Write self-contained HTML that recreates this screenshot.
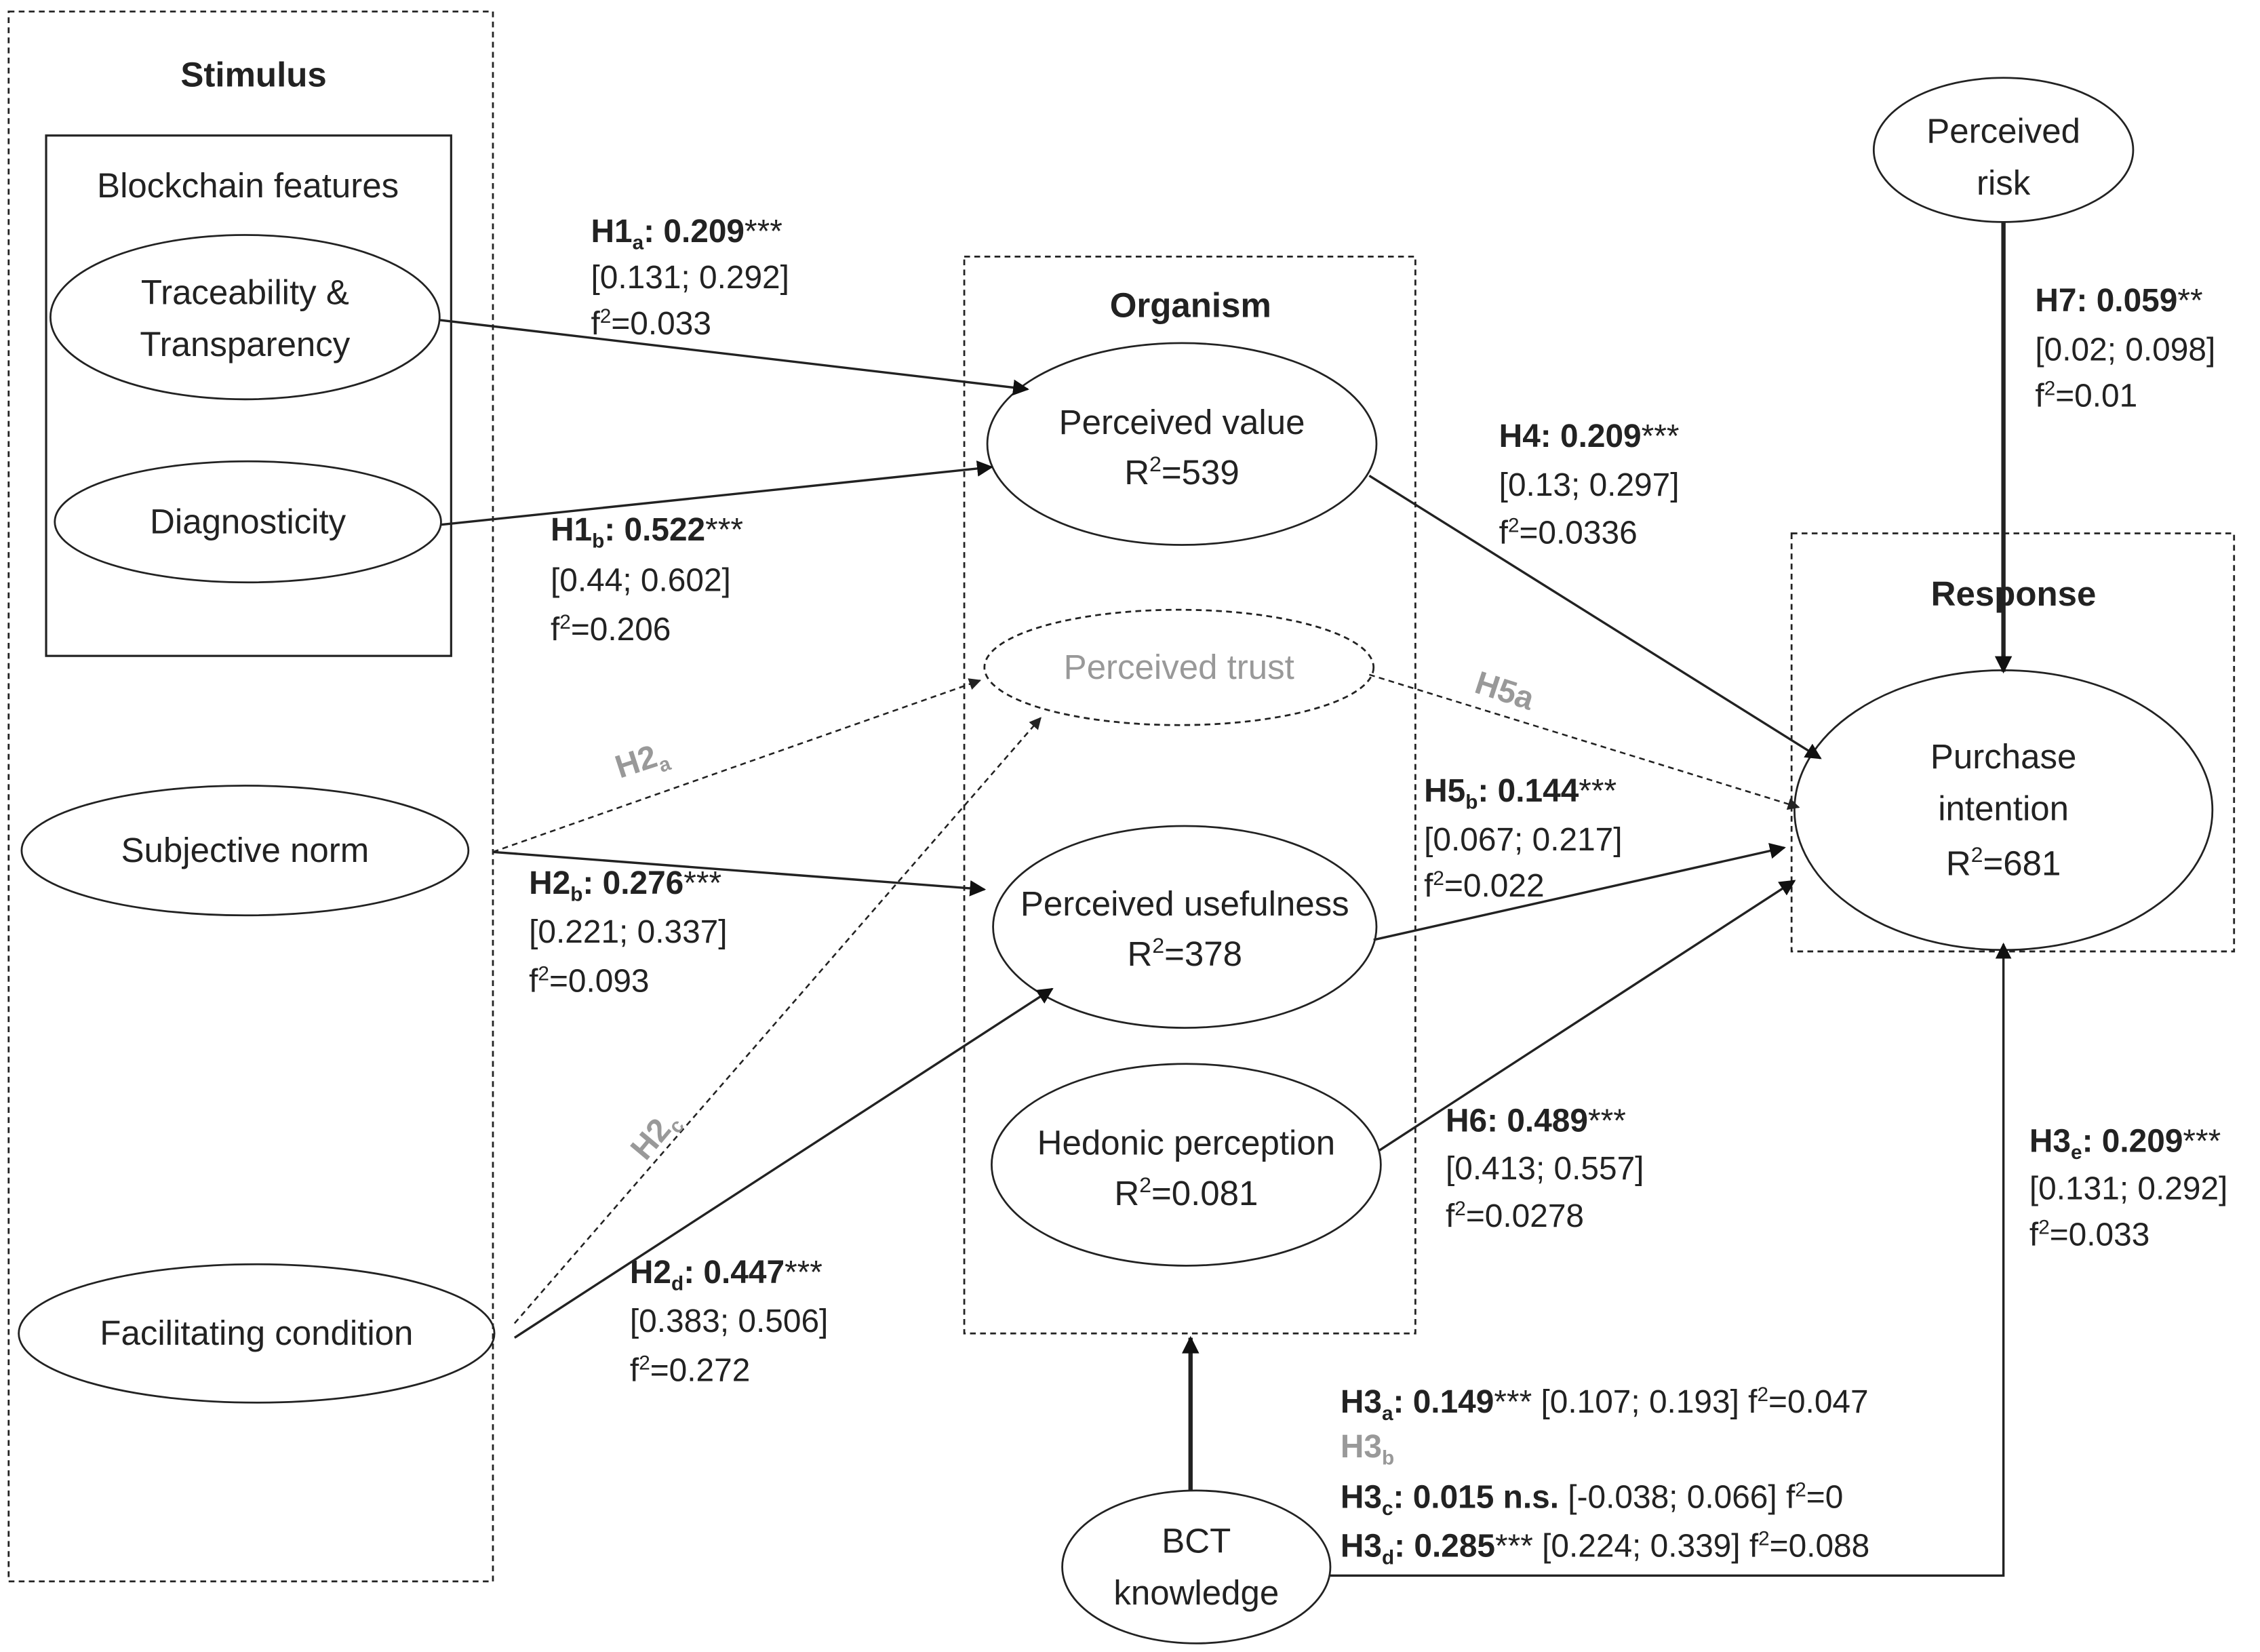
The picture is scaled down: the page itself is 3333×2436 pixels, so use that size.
<!DOCTYPE html>
<html><head><meta charset="utf-8"><style>
html,body{margin:0;padding:0;background:#fff}
svg{display:block}
text{font-family:"Liberation Sans",sans-serif;fill:#222}
.b{font-weight:bold}
.g{fill:#999}
</style></head><body>
<svg width="3333" height="2436" viewBox="0 0 1568 1146" preserveAspectRatio="none" xmlns="http://www.w3.org/2000/svg">
<defs>
<marker id="a" viewBox="0 0 10 10" refX="9" refY="5" markerWidth="7" markerHeight="7" orient="auto-start-reverse"><path d="M0,0L10,5L0,10z" fill="#111"/></marker>
<marker id="at" viewBox="0 0 10 10" refX="9" refY="5" markerWidth="13" markerHeight="12" markerUnits="userSpaceOnUse" orient="auto"><path d="M0,0L10,5L0,10z" fill="#111"/></marker>
<marker id="ag" viewBox="0 0 10 10" refX="9" refY="5" markerWidth="7" markerHeight="7" orient="auto"><path d="M0,0L10,5L0,10z" fill="#222"/></marker>
</defs>
<g fill="none" stroke="#222" stroke-width="1.3">
<rect x="6" y="8" width="336" height="1089" stroke-dasharray="4,3"/>
<rect x="32" y="94" width="281" height="361" stroke-width="1.5"/>
<rect x="669" y="178" width="313" height="747" stroke-dasharray="4,3"/>
<rect x="1243" y="370" width="307" height="290" stroke-dasharray="4,3"/>
<ellipse cx="170" cy="220" rx="135" ry="57"/>
<ellipse cx="172" cy="362" rx="134" ry="42"/>
<ellipse cx="170" cy="590" rx="155" ry="45"/>
<ellipse cx="178" cy="925" rx="165" ry="48"/>
<ellipse cx="820" cy="308" rx="135" ry="70"/>
<ellipse cx="818" cy="463" rx="135" ry="40" stroke-dasharray="4,3"/>
<ellipse cx="822" cy="643" rx="133" ry="70"/>
<ellipse cx="823" cy="808" rx="135" ry="70"/>
<ellipse cx="1390" cy="104" rx="90" ry="50"/>
<ellipse cx="1390" cy="562" rx="145" ry="97"/>
<ellipse cx="830" cy="1087" rx="93" ry="53"/>
<g stroke-width="1.6">
<line x1="305" y1="222" x2="713" y2="270" marker-end="url(#a)"/>
<line x1="306" y1="364" x2="688" y2="324" marker-end="url(#a)"/>
<line x1="342" y1="591" x2="683" y2="617" marker-end="url(#a)"/>
<line x1="357" y1="928" x2="730" y2="686" marker-end="url(#a)"/>
<line x1="950" y1="330" x2="1263" y2="526" marker-end="url(#a)"/>
<line x1="953" y1="652" x2="1238" y2="588" marker-end="url(#a)"/>
<line x1="957" y1="798" x2="1245" y2="611" marker-end="url(#a)"/>
<polyline points="923,1093 1390,1093 1390,655" marker-end="url(#a)"/>
</g>
<g stroke-width="1.2" stroke-dasharray="4,3">
<line x1="342" y1="591" x2="680" y2="472" marker-end="url(#ag)"/>
<line x1="357" y1="918" x2="722" y2="498" marker-end="url(#ag)"/>
<line x1="950" y1="468" x2="1248" y2="560" marker-end="url(#ag)"/>
</g>
<g stroke-width="3">
<line x1="1390" y1="154" x2="1390" y2="466" marker-end="url(#at)"/>
<line x1="826" y1="1034" x2="826" y2="928" marker-end="url(#at)"/>
</g>
</g>
<g font-size="24" text-anchor="middle">
<text x="176" y="60" class="b">Stimulus</text>
<text x="172" y="137">Blockchain features</text>
<text x="170" y="211">Traceability &amp;</text>
<text x="170" y="247">Transparency</text>
<text x="172" y="370">Diagnosticity</text>
<text x="170" y="598">Subjective norm</text>
<text x="178" y="933">Facilitating condition</text>
<text x="826" y="220" class="b">Organism</text>
<text x="820" y="301">Perceived value</text>
<text x="820" y="336">R<tspan font-size="15" dy="-9">2</tspan><tspan dy="9">=539</tspan></text>
<text x="818" y="471" class="g">Perceived trust</text>
<text x="822" y="635">Perceived usefulness</text>
<text x="822" y="670">R<tspan font-size="15" dy="-9">2</tspan><tspan dy="9">=378</tspan></text>
<text x="823" y="801">Hedonic perception</text>
<text x="823" y="836">R<tspan font-size="15" dy="-9">2</tspan><tspan dy="9">=0.081</tspan></text>
<text x="1390" y="99">Perceived</text>
<text x="1390" y="135">risk</text>
<text x="1397" y="420" class="b">Response</text>
<text x="1390" y="533">Purchase</text>
<text x="1390" y="569">intention</text>
<text x="1390" y="607">R<tspan font-size="15" dy="-9">2</tspan><tspan dy="9">=681</tspan></text>
<text x="830" y="1077">BCT</text>
<text x="830" y="1113">knowledge</text>
</g>
<g font-size="22.5">
<text x="410" y="168"><tspan class="b">H1</tspan><tspan font-size="14" dy="5" class="b">a</tspan><tspan dy="-5" class="b">: 0.209</tspan>***</text>
<text x="410" y="200">[0.131; 0.292]</text>
<text x="410" y="232">f<tspan font-size="14" dy="-8">2</tspan><tspan dy="8">=0.033</tspan></text>
<text x="382" y="375"><tspan class="b">H1</tspan><tspan font-size="14" dy="5" class="b">b</tspan><tspan dy="-5" class="b">: 0.522</tspan>***</text>
<text x="382" y="410">[0.44; 0.602]</text>
<text x="382" y="444">f<tspan font-size="14" dy="-8">2</tspan><tspan dy="8">=0.206</tspan></text>
<text x="430" y="540" class="g b" transform="rotate(-18 430 540)">H2<tspan font-size="14" dy="5">a</tspan></text>
<text x="367" y="620"><tspan class="b">H2</tspan><tspan font-size="14" dy="5" class="b">b</tspan><tspan dy="-5" class="b">: 0.276</tspan>***</text>
<text x="367" y="654">[0.221; 0.337]</text>
<text x="367" y="688">f<tspan font-size="14" dy="-8">2</tspan><tspan dy="8">=0.093</tspan></text>
<text x="448" y="806" class="g b" transform="rotate(-50 448 806)">H2<tspan font-size="14" dy="5">c</tspan></text>
<text x="437" y="890"><tspan class="b">H2</tspan><tspan font-size="14" dy="5" class="b">d</tspan><tspan dy="-5" class="b">: 0.447</tspan>***</text>
<text x="437" y="924">[0.383; 0.506]</text>
<text x="437" y="958">f<tspan font-size="14" dy="-8">2</tspan><tspan dy="8">=0.272</tspan></text>
<text x="1040" y="310"><tspan class="b">H4: 0.209</tspan>***</text>
<text x="1040" y="344">[0.13; 0.297]</text>
<text x="1040" y="377">f<tspan font-size="14" dy="-8">2</tspan><tspan dy="8">=0.0336</tspan></text>
<text x="1022" y="480" class="g b" transform="rotate(18 1022 480)">H5a</text>
<text x="988" y="556"><tspan class="b">H5</tspan><tspan font-size="14" dy="5" class="b">b</tspan><tspan dy="-5" class="b">: 0.144</tspan>***</text>
<text x="988" y="590">[0.067; 0.217]</text>
<text x="988" y="622">f<tspan font-size="14" dy="-8">2</tspan><tspan dy="8">=0.022</tspan></text>
<text x="1003" y="785"><tspan class="b">H6: 0.489</tspan>***</text>
<text x="1003" y="818">[0.413; 0.557]</text>
<text x="1003" y="851">f<tspan font-size="14" dy="-8">2</tspan><tspan dy="8">=0.0278</tspan></text>
<text x="1412" y="216"><tspan class="b">H7: 0.059</tspan>**</text>
<text x="1412" y="250">[0.02; 0.098]</text>
<text x="1412" y="282">f<tspan font-size="14" dy="-8">2</tspan><tspan dy="8">=0.01</tspan></text>
<text x="1408" y="799"><tspan class="b">H3</tspan><tspan font-size="14" dy="5" class="b">e</tspan><tspan dy="-5" class="b">: 0.209</tspan>***</text>
<text x="1408" y="832">[0.131; 0.292]</text>
<text x="1408" y="864">f<tspan font-size="14" dy="-8">2</tspan><tspan dy="8">=0.033</tspan></text>
<text x="930" y="980"><tspan class="b">H3</tspan><tspan font-size="14" dy="5" class="b">a</tspan><tspan dy="-5" class="b">: 0.149</tspan>*** [0.107; 0.193]  f<tspan font-size="14" dy="-8">2</tspan><tspan dy="8">=0.047</tspan></text>
<text x="930" y="1011" class="g b">H3<tspan font-size="14" dy="5">b</tspan></text>
<text x="930" y="1046"><tspan class="b">H3</tspan><tspan font-size="14" dy="5" class="b">c</tspan><tspan dy="-5" class="b">: 0.015 n.s.</tspan> [-0.038; 0.066]  f<tspan font-size="14" dy="-8">2</tspan><tspan dy="8">=0</tspan></text>
<text x="930" y="1080"><tspan class="b">H3</tspan><tspan font-size="14" dy="5" class="b">d</tspan><tspan dy="-5" class="b">: 0.285</tspan>*** [0.224; 0.339]  f<tspan font-size="14" dy="-8">2</tspan><tspan dy="8">=0.088</tspan></text>
</g>
</svg>
</body></html>
